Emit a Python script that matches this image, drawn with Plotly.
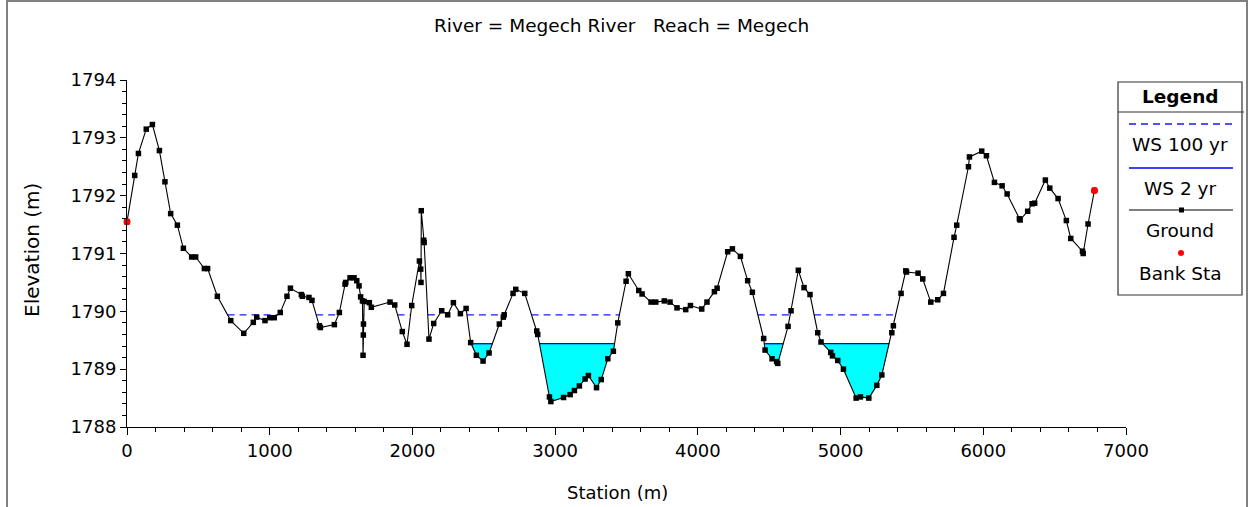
import plotly.graph_objects as go

# Cross-section survey: station (m) and ground elevation (m)
station = [0, 54, 80, 135, 178, 227, 266, 306, 353, 395, 453, 481, 542, 565, 633,
           727, 818, 885, 909, 967, 1000, 1032, 1074, 1121, 1145, 1222, 1229, 1275,
           1296, 1348, 1355, 1453, 1488, 1528, 1533, 1563, 1591, 1610, 1626, 1637,
           1650, 1654, 1656, 1657, 1662, 1698, 1712, 1843, 1876, 1929, 1962, 1995,
           2049, 2058, 2060, 2062, 2079, 2082, 2116, 2149, 2205, 2247, 2287, 2336,
           2376, 2408, 2448, 2495, 2537, 2609, 2637, 2643, 2705, 2724, 2787, 2871,
           2878, 2960, 2970, 3059, 3105, 3135, 3170, 3210, 3233, 3290, 3323, 3369,
           3408, 3439, 3497, 3513, 3586, 3609, 3672, 3705, 3765, 3805, 3854, 3915,
           3948, 4027, 4064, 4116, 4135, 4209, 4242, 4298, 4349, 4382, 4461, 4471,
           4520, 4552, 4560, 4632, 4653, 4704, 4744, 4786, 4840, 4863, 4931, 4943,
           4980, 5020, 5109, 5139, 5198, 5254, 5289, 5359, 5370, 5424, 5457, 5462,
           5543, 5576, 5632, 5681, 5721, 5795, 5814, 5896, 5903, 5989, 6022, 6078,
           6132, 6167, 6253, 6258, 6311, 6342, 6360, 6435, 6466, 6524, 6582, 6613,
           6695, 6700, 6734, 6779]
ground = [1791.55, 1792.35, 1792.73, 1793.15, 1793.23, 1792.78, 1792.24, 1791.69,
          1791.49, 1791.09, 1790.94, 1790.94, 1790.74, 1790.74, 1790.26, 1789.84,
          1789.62, 1789.81, 1789.90, 1789.84, 1789.89, 1789.89, 1789.98, 1790.26,
          1790.40, 1790.29, 1790.26, 1790.24, 1790.19, 1789.75, 1789.72, 1789.77,
          1789.98, 1790.47, 1790.50, 1790.58, 1790.58, 1790.53, 1790.44, 1790.25,
          1790.18, 1789.24, 1789.59, 1789.78, 1790.17, 1790.15, 1790.07, 1790.16,
          1790.11, 1789.65, 1789.43, 1790.10, 1790.87, 1790.73, 1790.50, 1791.74,
          1791.23, 1791.19, 1789.52, 1789.79, 1790.01, 1789.94, 1790.15, 1789.96,
          1790.05, 1789.46, 1789.24, 1789.14, 1789.28, 1789.78, 1789.90, 1789.94,
          1790.31, 1790.38, 1790.31, 1789.66, 1789.60, 1788.52, 1788.44, 1788.51,
          1788.56, 1788.63, 1788.71, 1788.83, 1788.89, 1788.68, 1788.82, 1789.18,
          1789.31, 1789.80, 1790.52, 1790.65, 1790.36, 1790.30, 1790.16, 1790.16,
          1790.18, 1790.16, 1790.06, 1790.03, 1790.10, 1790.04, 1790.16, 1790.34,
          1790.40, 1791.03, 1791.08, 1790.95, 1790.53, 1790.33, 1789.53, 1789.33,
          1789.18, 1789.13, 1789.10, 1789.74, 1790.01, 1790.71, 1790.41, 1790.29,
          1789.63, 1789.47, 1789.29, 1789.23, 1789.15, 1789.00, 1788.50, 1788.52,
          1788.50, 1788.72, 1788.90, 1789.63, 1789.75, 1790.31, 1790.70, 1790.68,
          1790.66, 1790.56, 1790.16, 1790.20, 1790.31, 1791.28, 1791.49, 1792.50,
          1792.67, 1792.77, 1792.69, 1792.23, 1792.17, 1792.03, 1791.60, 1791.58,
          1791.73, 1791.86, 1791.87, 1792.27, 1792.13, 1791.95, 1791.57, 1791.26,
          1791.04, 1791.00, 1791.51, 1792.09]

# Bank stations
bank_station = [0, 6779]
bank_elev = [1791.55, 1792.09]

# Water surface profiles (m)
ws_100yr = 1789.94
ws_2yr = 1789.44

FONT = "DejaVu Sans"


def wet_parts(xs, ys, level):
    """Split the section into wetted reaches below a water level.
    Each reach is a list of (x, y) points starting and ending on the water line."""
    parts, cur = [], None
    if ys[0] < level:
        cur = [(xs[0], level), (xs[0], ys[0])]
    for i in range(len(xs) - 1):
        x0, y0, x1, y1 = xs[i], ys[i], xs[i + 1], ys[i + 1]
        b0, b1 = y0 < level, y1 < level
        if b0 != b1:
            xc = x0 + (level - y0) * (x1 - x0) / (y1 - y0)
            if b1:
                cur = [(xc, level), (x1, y1)]
            else:
                cur.append((xc, level))
                parts.append(cur)
                cur = None
        elif b1 and cur is not None:
            cur.append((x1, y1))
    if cur is not None:
        cur.append((xs[-1], level))
        parts.append(cur)
    return parts


def level_line(parts, level):
    lx, ly = [], []
    for p in parts:
        lx += [p[0][0], p[-1][0], None]
        ly += [level, level, None]
    return lx, ly


parts2 = wet_parts(station, ground, ws_2yr)
parts100 = wet_parts(station, ground, ws_100yr)

fx, fy = [], []
for p in parts2:
    fx += [pt[0] for pt in p] + [None]
    fy += [pt[1] for pt in p] + [None]

fig = go.Figure()

# wetted area of the 2 yr profile
fig.add_trace(go.Scatter(x=fx, y=fy, mode="lines", fill="toself",
                         fillcolor="#00FFFF", line=dict(width=0),
                         hoverinfo="skip", showlegend=False))

x2, y2 = level_line(parts2, ws_2yr)
fig.add_trace(go.Scatter(x=x2, y=y2, mode="lines", name="WS 2 yr",
                         line=dict(color="#0000FF", width=1.3),
                         showlegend=False))

x100, y100 = level_line(parts100, ws_100yr)
fig.add_trace(go.Scatter(x=x100, y=y100, mode="lines", name="WS 100 yr",
                         line=dict(color="#1a1aff", width=1.3, dash="7px,5px"),
                         showlegend=False))

fig.add_trace(go.Scatter(x=station, y=ground, mode="lines+markers", name="Ground",
                         line=dict(color="black", width=1.1),
                         marker=dict(symbol="square", size=5.5, color="black"),
                         cliponaxis=False, showlegend=False))

fig.add_trace(go.Scatter(x=bank_station, y=bank_elev, mode="markers", name="Bank Sta",
                         marker=dict(symbol="circle", size=7, color="#FF0000"),
                         cliponaxis=False, showlegend=False))

# plot area in pixels: x 127..1126, y 80..427
L, R, T, B = 127, 124, 80, 80
W, H = 1250, 507
PW, PH = W - L - R, H - T - B


def px(x):
    return (x - L) / PW


def py(y):
    return (H - B - y) / PH


shapes = []
annotations = []

# outer frame
shapes.append(dict(type="rect", xref="paper", yref="paper",
                   x0=px(7), x1=px(1247), y0=py(540), y1=py(1),
                   line=dict(color="#808080", width=2)))

# legend panel
shapes.append(dict(type="rect", xref="paper", yref="paper",
                   x0=px(1118), x1=px(1242), y0=py(295), y1=py(82),
                   line=dict(color="#333333", width=1.2), fillcolor="white"))
shapes.append(dict(type="line", xref="paper", yref="paper",
                   x0=px(1118), x1=px(1244), y0=py(112), y1=py(112),
                   line=dict(color="#333333", width=1.2)))
shapes.append(dict(type="line", xref="paper", yref="paper",
                   x0=px(1129), x1=px(1233), y0=py(124), y1=py(124),
                   line=dict(color="#1a1aff", width=1.3, dash="7px,5px")))
shapes.append(dict(type="line", xref="paper", yref="paper",
                   x0=px(1129), x1=px(1233), y0=py(168), y1=py(168),
                   line=dict(color="#0000FF", width=1.3)))
shapes.append(dict(type="line", xref="paper", yref="paper",
                   x0=px(1129), x1=px(1233), y0=py(210), y1=py(210),
                   line=dict(color="black", width=1.2)))
shapes.append(dict(type="rect", xref="paper", yref="paper",
                   x0=px(1179), x1=px(1184), y0=py(212.5), y1=py(207.5),
                   line=dict(width=0), fillcolor="black"))
shapes.append(dict(type="circle", xref="paper", yref="paper",
                   x0=px(1178), x1=px(1184), y0=py(256), y1=py(250),
                   line=dict(width=0), fillcolor="#FF0000"))

legend_text = [("<b>Legend</b>", 97), ("WS 100 yr", 144), ("WS 2 yr", 188),
               ("Ground", 230), ("Bank Sta", 273)]
for txt, yy in legend_text:
    annotations.append(dict(text=txt, xref="paper", yref="paper",
                            x=px(1180), y=py(yy), showarrow=False,
                            xanchor="center", yanchor="middle",
                            font=dict(family=FONT, size=18.5, color="black")))

# chart title and axis titles
annotations.append(dict(text="River = Megech River   Reach = Megech",
                        xref="paper", yref="paper", x=px(621), y=py(25),
                        showarrow=False, xanchor="center", yanchor="middle",
                        font=dict(family=FONT, size=18.5, color="black")))
annotations.append(dict(text="Station (m)", xref="paper", yref="paper",
                        x=px(617), y=py(492), showarrow=False,
                        xanchor="center", yanchor="middle",
                        font=dict(family=FONT, size=18, color="black")))
annotations.append(dict(text="Elevation (m)", xref="paper", yref="paper",
                        x=px(32), y=py(250), showarrow=False, textangle=-90,
                        xanchor="center", yanchor="middle",
                        font=dict(family=FONT, size=20, color="black")))

fig.update_layout(
    width=W, height=H, autosize=False,
    margin=dict(l=L, r=R, t=T, b=B, pad=0),
    paper_bgcolor="white", plot_bgcolor="white",
    shapes=shapes, annotations=annotations,
    showlegend=False,
    xaxis=dict(range=[0, 7000], tick0=0, dtick=1000, showgrid=False, zeroline=False,
               showline=True, linecolor="black", linewidth=1,
               ticks="outside", ticklen=7, tickcolor="black", tickwidth=1,
               minor=dict(dtick=200, ticks="outside", ticklen=4, tickcolor="black",
                          showgrid=False),
               tickfont=dict(family=FONT, size=18, color="black"),
               automargin=False, fixedrange=True),
    yaxis=dict(range=[1788, 1794], tick0=1788, dtick=1, showgrid=False, zeroline=False,
               showline=True, linecolor="black", linewidth=1,
               ticks="outside", ticklen=6, tickcolor="black", tickwidth=1,
               minor=dict(dtick=0.2, ticks="outside", ticklen=4, tickcolor="black",
                          showgrid=False),
               tickfont=dict(family=FONT, size=18, color="black"),
               automargin=False, fixedrange=True),
)

fig.write_html("out.html")
